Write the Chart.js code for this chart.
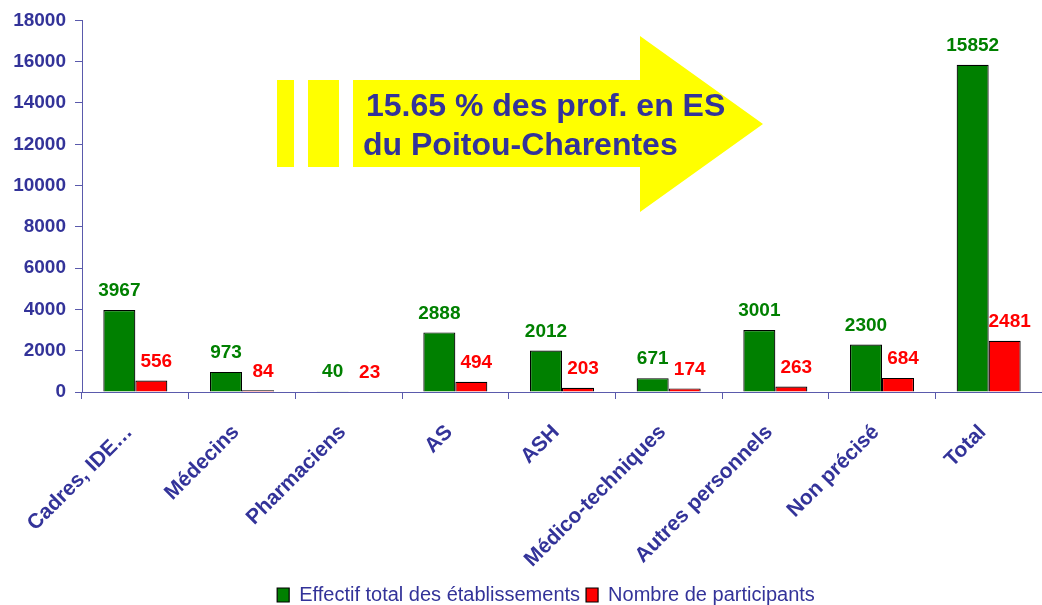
<!DOCTYPE html>
<html>
<head>
<meta charset="utf-8">
<script src="https://cdn.jsdelivr.net/npm/chart.js@4/dist/chart.umd.min.js"></script>
<style>
  html, body { margin: 0; padding: 0; background: #ffffff; }
  #wrap { width: 1042px; height: 605px; }
</style>
</head>
<body>
<div id="wrap"><canvas id="c" width="1042" height="605"></canvas></div>
<script>
const categories = ["Cadres, IDE\u2026", "Médecins", "Pharmaciens", "AS", "ASH", "Médico-techniques", "Autres personnels", "Non précisé", "Total"];
const effectifTotal = [3967, 973, 40, 2888, 2012, 671, 3001, 2300, 15852];
const participants = [556, 84, 23, 494, 203, 174, 263, 684, 2481];
const seriesNames = ["Effectif total des établissements", "Nombre de participants"];
const yTicks = [0, 2000, 4000, 6000, 8000, 10000, 12000, 14000, 16000, 18000];
const calloutLines = ["15.65 % des prof. en ES", "du Poitou-Charentes"];

const FONT = "'Liberation Sans', Arial, sans-serif";
const NAVY = "#333399";
const AXIS = "#5a5aac";

const valueLabels = {
  id: "valueLabels",
  afterDatasetsDraw(chart) {
    const ctx = chart.ctx;
    ctx.save();
    ctx.font = "bold 19px " + FONT;
    ctx.textAlign = "center";
    ctx.textBaseline = "middle";
    chart.data.datasets.forEach((ds, di) => {
      const meta = chart.getDatasetMeta(di);
      meta.data.forEach((bar, i) => {
        ctx.fillStyle = ds.labelColor;
        const dx = di === 1 ? 5 : 0;
        ctx.fillText(String(ds.data[i]), bar.x + dx, bar.y - 19);
      });
    });
    ctx.restore();
  }
};

const legendShift = {
  id: "legendShift",
  afterLayout(chart) {
    if (chart.legend) { chart.legend.left += 50; }
  }
};

const callout = {
  id: "callout",
  afterDraw(chart) {
    const ctx = chart.ctx;
    ctx.save();
    ctx.fillStyle = "#ffff00";
    ctx.fillRect(277, 80, 17, 87);
    ctx.fillRect(308, 80, 31, 87);
    ctx.beginPath();
    ctx.moveTo(353, 80);
    ctx.lineTo(640, 80);
    ctx.lineTo(640, 36);
    ctx.lineTo(763, 124);
    ctx.lineTo(640, 212);
    ctx.lineTo(640, 167);
    ctx.lineTo(353, 167);
    ctx.closePath();
    ctx.fill();
    ctx.fillStyle = NAVY;
    ctx.font = "bold 32px " + FONT;
    ctx.textAlign = "left";
    ctx.textBaseline = "alphabetic";
    ctx.fillText(calloutLines[0], 366, 116);
    ctx.fillText(calloutLines[1], 363, 155);
    ctx.restore();
  }
};

new Chart(document.getElementById("c"), {
  type: "bar",
  data: {
    labels: categories,
    datasets: [
      { label: seriesNames[0], data: effectifTotal, backgroundColor: "#008000", borderColor: "#000000", borderWidth: 1.2, labelColor: "#008000" },
      { label: seriesNames[1], data: participants, backgroundColor: "#ff0000", borderColor: "#000000", borderWidth: 1.2, labelColor: "#ff0000" }
    ]
  },
  options: {
    responsive: false,
    animation: false,
    datasets: { bar: { categoryPercentage: 0.6, barPercentage: 1.0 } },
    layout: { padding: { top: 20, right: 0, left: 0, bottom: -10 } },
    plugins: {
      tooltip: { enabled: false },
      legend: {
        position: "bottom",
        labels: {
          color: NAVY,
          font: { family: FONT, size: 20 },
          boxWidth: 12,
          boxHeight: 14,
          padding: 6
        }
      }
    },
    scales: {
      x: {
        grid: { display: true, drawOnChartArea: false, drawTicks: true, tickLength: 7, color: AXIS, offset: true },
        border: { color: AXIS, width: 1 },
        ticks: {
          color: NAVY,
          font: { family: FONT, size: 21, weight: "bold" },
          minRotation: 45, maxRotation: 45,
          autoSkip: false,
          padding: 21,
          labelOffset: -6
        },
        afterFit(s) {
          const lg = s.chart.legend ? s.chart.legend.height : 40;
          s.height = 605 + 10 - 392 - lg;
        }
      },
      y: {
        min: 0, max: 18000,
        afterBuildTicks(s) { s.ticks = yTicks.map(v => ({ value: v })); },
        grid: { display: true, drawOnChartArea: false, drawTicks: true, tickLength: 7, color: AXIS },
        border: { color: AXIS, width: 1 },
        ticks: {
          color: NAVY,
          font: { family: FONT, size: 19, weight: "bold" },
          padding: 9,
          callback: v => String(v)
        },
        afterFit(s) { s.width = 82; }
      }
    }
  },
  plugins: [valueLabels, legendShift, callout]
});
</script>
</body>
</html>
